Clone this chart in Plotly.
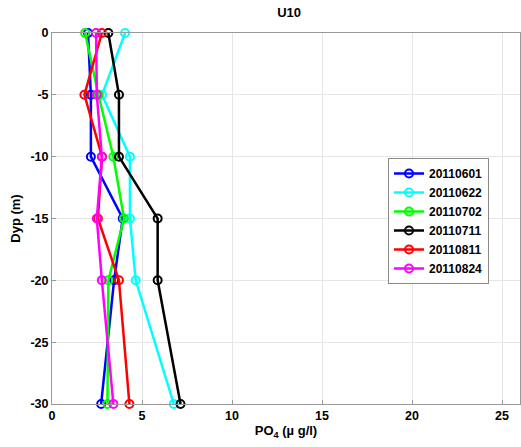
import plotly.graph_objects as go

depths = [0, -5, -10, -15, -20, -30]
series_names = ["20110601", "20110622", "20110702", "20110711", "20110811", "20110824"]
colors = ["#0000ff", "#00ffff", "#00ff00", "#000000", "#ff0000", "#ff00ff"]
v_20110601 = [2.0, 2.16, 2.16, 3.93, 3.45, 2.73]
v_20110622 = [4.06, 2.78, 4.33, 4.33, 4.65, 6.77]
v_20110702 = [1.84, 2.58, 3.41, 4.0, 3.13, 3.08]
v_20110711 = [3.13, 3.72, 3.72, 5.87, 5.87, 7.14]
v_20110811 = [2.77, 1.80, 2.78, 2.55, 3.72, 4.30]
v_20110824 = [2.45, 2.49, 2.77, 2.49, 2.77, 3.41]
values = [v_20110601, v_20110622, v_20110702, v_20110711, v_20110811, v_20110824]

x_ticks = [0, 5, 10, 15, 20, 25]
y_ticks = [0, -5, -10, -15, -20, -25, -30]

FONT = "Liberation Sans, Arial, sans-serif"

fig = go.Figure()
for name, col, vals in zip(series_names, colors, values):
    fig.add_trace(go.Scatter(
        x=vals, y=depths, mode="lines+markers", name=f"<b>{name}</b>",
        line=dict(color=col, width=2.5),
        marker=dict(symbol="circle-open", size=8, color=col, line=dict(width=2, color=col)),
        cliponaxis=False,
    ))

fig.update_layout(
    width=521, height=447,
    margin=dict(l=52, r=1, t=33, b=43),
    paper_bgcolor="white", plot_bgcolor="white",
    font=dict(family=FONT, size=12, color="black"),
    title=dict(text="<b>U10</b>", x=0.555, xanchor="center", y=1 - 12 / 447, yanchor="middle",
               font=dict(size=13, family=FONT)),
    xaxis=dict(range=[0, 26], tickvals=x_ticks, ticktext=[f"<b>{t}</b>" for t in x_ticks],
               showgrid=True, gridcolor="#e6e6e6", zeroline=False, automargin=False,
               showline=True, linecolor="#999999", linewidth=1, mirror=True,
               ticks="inside", ticklen=4, tickcolor="#999999",
               tickfont=dict(size=12.5),
               title=dict(text="<b>PO<sub>4</sub> (µ g/l)</b>", standoff=2, font=dict(size=13))),
    yaxis=dict(range=[-30, 0], tickvals=y_ticks, ticktext=[f"<b>{t}</b>" for t in y_ticks],
               showgrid=True, gridcolor="#e6e6e6", zeroline=False, automargin=False,
               showline=True, linecolor="#999999", linewidth=1, mirror=True,
               ticks="inside", ticklen=4, tickcolor="#999999",
               tickfont=dict(size=12.5),
               title=dict(text="<b>Dyp (m)</b>", standoff=6, font=dict(size=13))),
    legend=dict(x=(388 - 52) / 468, y=(404 - 158) / 371, xanchor="left", yanchor="top",
                bgcolor="white", bordercolor="#888888", borderwidth=1,
                font=dict(size=12, family=FONT), tracegroupgap=0,
                itemwidth=30),
    showlegend=True,
)

fig.write_html(
    "out.html",
    config={"displayModeBar": False},
    post_script="document.body.style.margin='0';document.body.style.overflow='hidden';",
)
